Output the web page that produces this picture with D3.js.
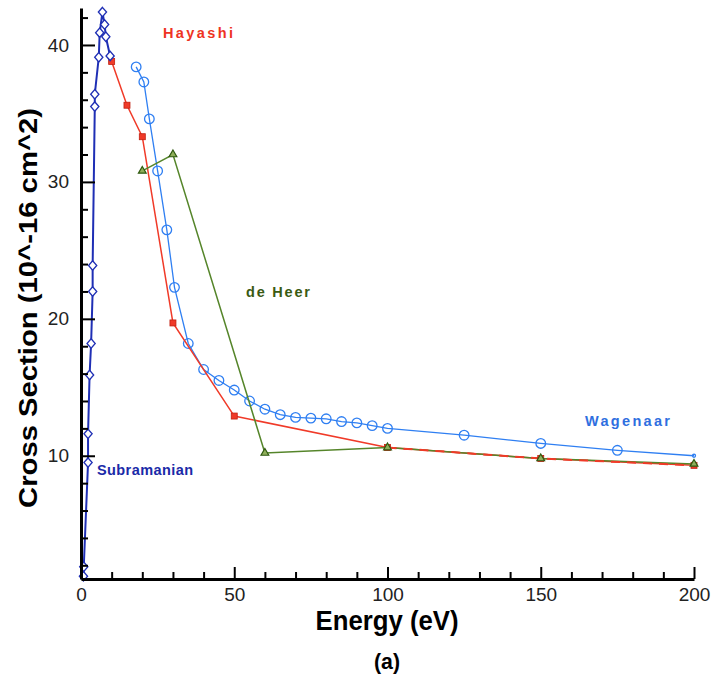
<!DOCTYPE html>
<html>
<head>
<meta charset="utf-8">
<script src="https://cdn.jsdelivr.net/npm/d3@7"></script>
<style>
  body { margin: 0; background: #fff; }
  svg { display: block; }
</style>
</head>
<body>
<svg width="713" height="681"></svg>
<script>
// data
var subEnergy = [0.8, 0.9, 2.3, 2.3, 2.8, 3.3, 3.8, 3.8, 4.5, 4.5, 5.8, 6.1, 7.0, 7.7, 8.1, 9.5];
var subSigma  = [1.2, 1.9, 9.5, 11.6, 15.9, 18.2, 22.0, 23.9, 35.5, 36.4, 39.1, 40.9, 42.4, 41.5, 40.6, 39.2];

var hayEnergy = [10, 15, 20, 30, 50, 100, 150, 200];
var haySigma  = [38.8, 35.6, 33.3, 19.7, 12.9, 10.6, 9.8, 9.3];

var wagEnergy = [18, 20.5, 22.3, 25, 28, 30.5, 35, 40, 45, 50, 55, 60, 65, 70, 75, 80, 85, 90, 95, 100, 125, 150, 175, 200];
var wagSigma  = [38.4, 37.3, 34.6, 30.8, 26.5, 22.3, 18.2, 16.3, 15.5, 14.8, 14.0, 13.4, 13.0, 12.8, 12.75, 12.7, 12.5, 12.4, 12.2, 12.0, 11.5, 10.9, 10.4, 10.0];

var heerEnergy = [20, 30, 60, 100, 150, 200];
var heerSigma  = [30.8, 32.0, 10.2, 10.6, 9.8, 9.4];

var xMajor = [0, 50, 100, 150, 200];
var yMajor = [10, 20, 30, 40];

var svg = d3.select("svg"),
  width = +svg.attr("width"),
  height = +svg.attr("height");

var x = d3.scaleLinear().domain([0, 200]).range([81, 694]);
var y = d3.scaleLinear().domain([1, 42.7]).range([579, 8]);

function zip(a, b) { return a.map(function(v, i) { return [v, b[i]]; }); }

var line = d3.line()
  .x(function(d) { return x(d[0]); })
  .y(function(d) { return y(d[1]); });

var cSub = "#1f2fb5", cHay = "#f03a28", cWag = "#2f7ff2", cHeer = "#55852a";

// Wagenaar
svg.append("path").datum(zip(wagEnergy, wagSigma))
  .attr("d", line).attr("fill", "none").attr("stroke", cWag).attr("stroke-width", 1.3);
svg.append("g").selectAll("circle").data(zip(wagEnergy, wagSigma)).enter()
  .append("circle")
    .attr("cx", function(d) { return x(d[0]); })
    .attr("cy", function(d) { return y(d[1]); })
    .attr("r", function(d, i) { return i == wagEnergy.length - 1 ? 1.5 : 4.8; })
    .attr("fill", "none").attr("stroke", cWag).attr("stroke-width", 1.3);

// Hayashi
svg.append("path").datum(zip(hayEnergy, haySigma))
  .attr("d", line).attr("fill", "none").attr("stroke", cHay).attr("stroke-width", 1.5);

// de Heer
svg.append("path").datum(zip(heerEnergy, heerSigma))
  .attr("d", line).attr("fill", "none").attr("stroke", cHeer).attr("stroke-width", 1.5);
// red dashes over the shared tail
svg.append("path").datum(zip(hayEnergy, haySigma).filter(function(d) { return d[0] >= 100; }))
  .attr("d", line).attr("fill", "none").attr("stroke", cHay).attr("stroke-width", 2)
  .attr("stroke-dasharray", "9,7");

svg.append("g").selectAll("rect").data(zip(hayEnergy, haySigma)).enter()
  .append("rect")
    .attr("x", function(d) { return x(d[0]) - 3; })
    .attr("y", function(d) { return y(d[1]) - 3; })
    .attr("width", 6).attr("height", 6)
    .attr("fill", cHay).attr("stroke", "#c02010").attr("stroke-width", 0.8);

var tri = d3.symbol().type(d3.symbolTriangle).size(26);
svg.append("g").selectAll("path").data(zip(heerEnergy, heerSigma)).enter()
  .append("path")
    .attr("d", tri)
    .attr("transform", function(d) { return "translate(" + x(d[0]) + "," + y(d[1]) + ")"; })
    .attr("fill", "#8fae5a").attr("stroke", "#2f5a10").attr("stroke-width", 1.2);

// Subramanian
svg.append("path").datum(zip(subEnergy, subSigma))
  .attr("d", line).attr("fill", "none").attr("stroke", cSub).attr("stroke-width", 2);
var dia = d3.symbol().type(d3.symbolDiamond).size(40);
svg.append("g").selectAll("path").data(zip(subEnergy, subSigma)).enter()
  .append("path")
    .attr("d", dia)
    .attr("transform", function(d) { return "translate(" + x(d[0]) + "," + y(d[1]) + ") scale(1.2,0.8)"; })
    .attr("fill", "#fff").attr("stroke", cSub).attr("stroke-width", 1.3);

var tickFont = "'Liberation Sans', Arial, sans-serif";

// axes
var xAxis = d3.axisBottom(x).tickValues(d3.range(0, 201, 10)).tickSizeInner(-7).tickSizeOuter(0)
  .tickFormat(function(d) { return xMajor.indexOf(d) >= 0 ? d : ""; });
var gx = svg.append("g").attr("transform", "translate(0," + y(1) + ")").call(xAxis);
gx.select(".domain").attr("stroke-width", 3);
gx.selectAll(".tick line").attr("stroke-width", 2)
  .attr("y2", function(d) { return xMajor.indexOf(d) >= 0 ? -12 : -7; });
gx.selectAll(".tick text").attr("y", 9)
  .style("font-family", tickFont).style("font-size", "19px").attr("fill", "#222");

var yAxis = d3.axisLeft(y).tickValues(d3.range(2, 43, 2)).tickSizeInner(-7).tickSizeOuter(0)
  .tickFormat(function(d) { return yMajor.indexOf(d) >= 0 ? d : ""; });
var gy = svg.append("g").attr("transform", "translate(" + x(0) + ",0)").call(yAxis);
gy.select(".domain").attr("stroke-width", 3);
gy.selectAll(".tick line").attr("stroke-width", 2)
  .attr("x2", function(d) { return yMajor.indexOf(d) >= 0 ? 14 : 7; });
gy.selectAll(".tick text").attr("x", -12)
  .style("font-family", tickFont).style("font-size", "19px").attr("fill", "#222");

// axis titles (narrow bold face in the original, squeezed to width)
svg.append("text").attr("x", 387).attr("y", 630).attr("text-anchor", "middle")
  .attr("textLength", 143).attr("lengthAdjust", "spacingAndGlyphs")
  .style("font-family", tickFont)
  .style("font-weight", "bold").style("font-size", "27px").text("Energy (eV)");
svg.append("text").attr("transform", "translate(37,308) rotate(-90)").attr("text-anchor", "middle")
  .attr("textLength", 400).attr("lengthAdjust", "spacingAndGlyphs")
  .style("font-family", tickFont)
  .style("font-weight", "bold").style("font-size", "25px").text("Cross Section (10^-16 cm^2)");
svg.append("text").attr("x", 387).attr("y", 669).attr("text-anchor", "middle")
  .attr("textLength", 26).attr("lengthAdjust", "spacingAndGlyphs")
  .style("font-family", tickFont)
  .style("font-weight", "bold").style("font-size", "22px").text("(a)");

// series labels
var labels = [
  { t: "Hayashi", x: 163, y: 38, w: 70, c: "#ee3322" },
  { t: "de Heer", x: 246, y: 297, w: 64, c: "#3a5a12" },
  { t: "Wagenaar", x: 585, y: 426, w: 85, c: "#2f6fe0" },
  { t: "Subramanian", x: 97, y: 475, w: 96, c: "#1a2aa8" }
];
svg.append("g").selectAll("text").data(labels).enter()
  .append("text")
    .attr("x", function(d) { return d.x; })
    .attr("y", function(d) { return d.y; })
    .attr("textLength", function(d) { return d.w; })
    .attr("lengthAdjust", "spacing")
    .attr("fill", function(d) { return d.c; })
    .style("font-family", tickFont)
    .style("font-weight", "bold").style("font-size", "14.5px")
    .text(function(d) { return d.t; });
</script>
</body>
</html>
